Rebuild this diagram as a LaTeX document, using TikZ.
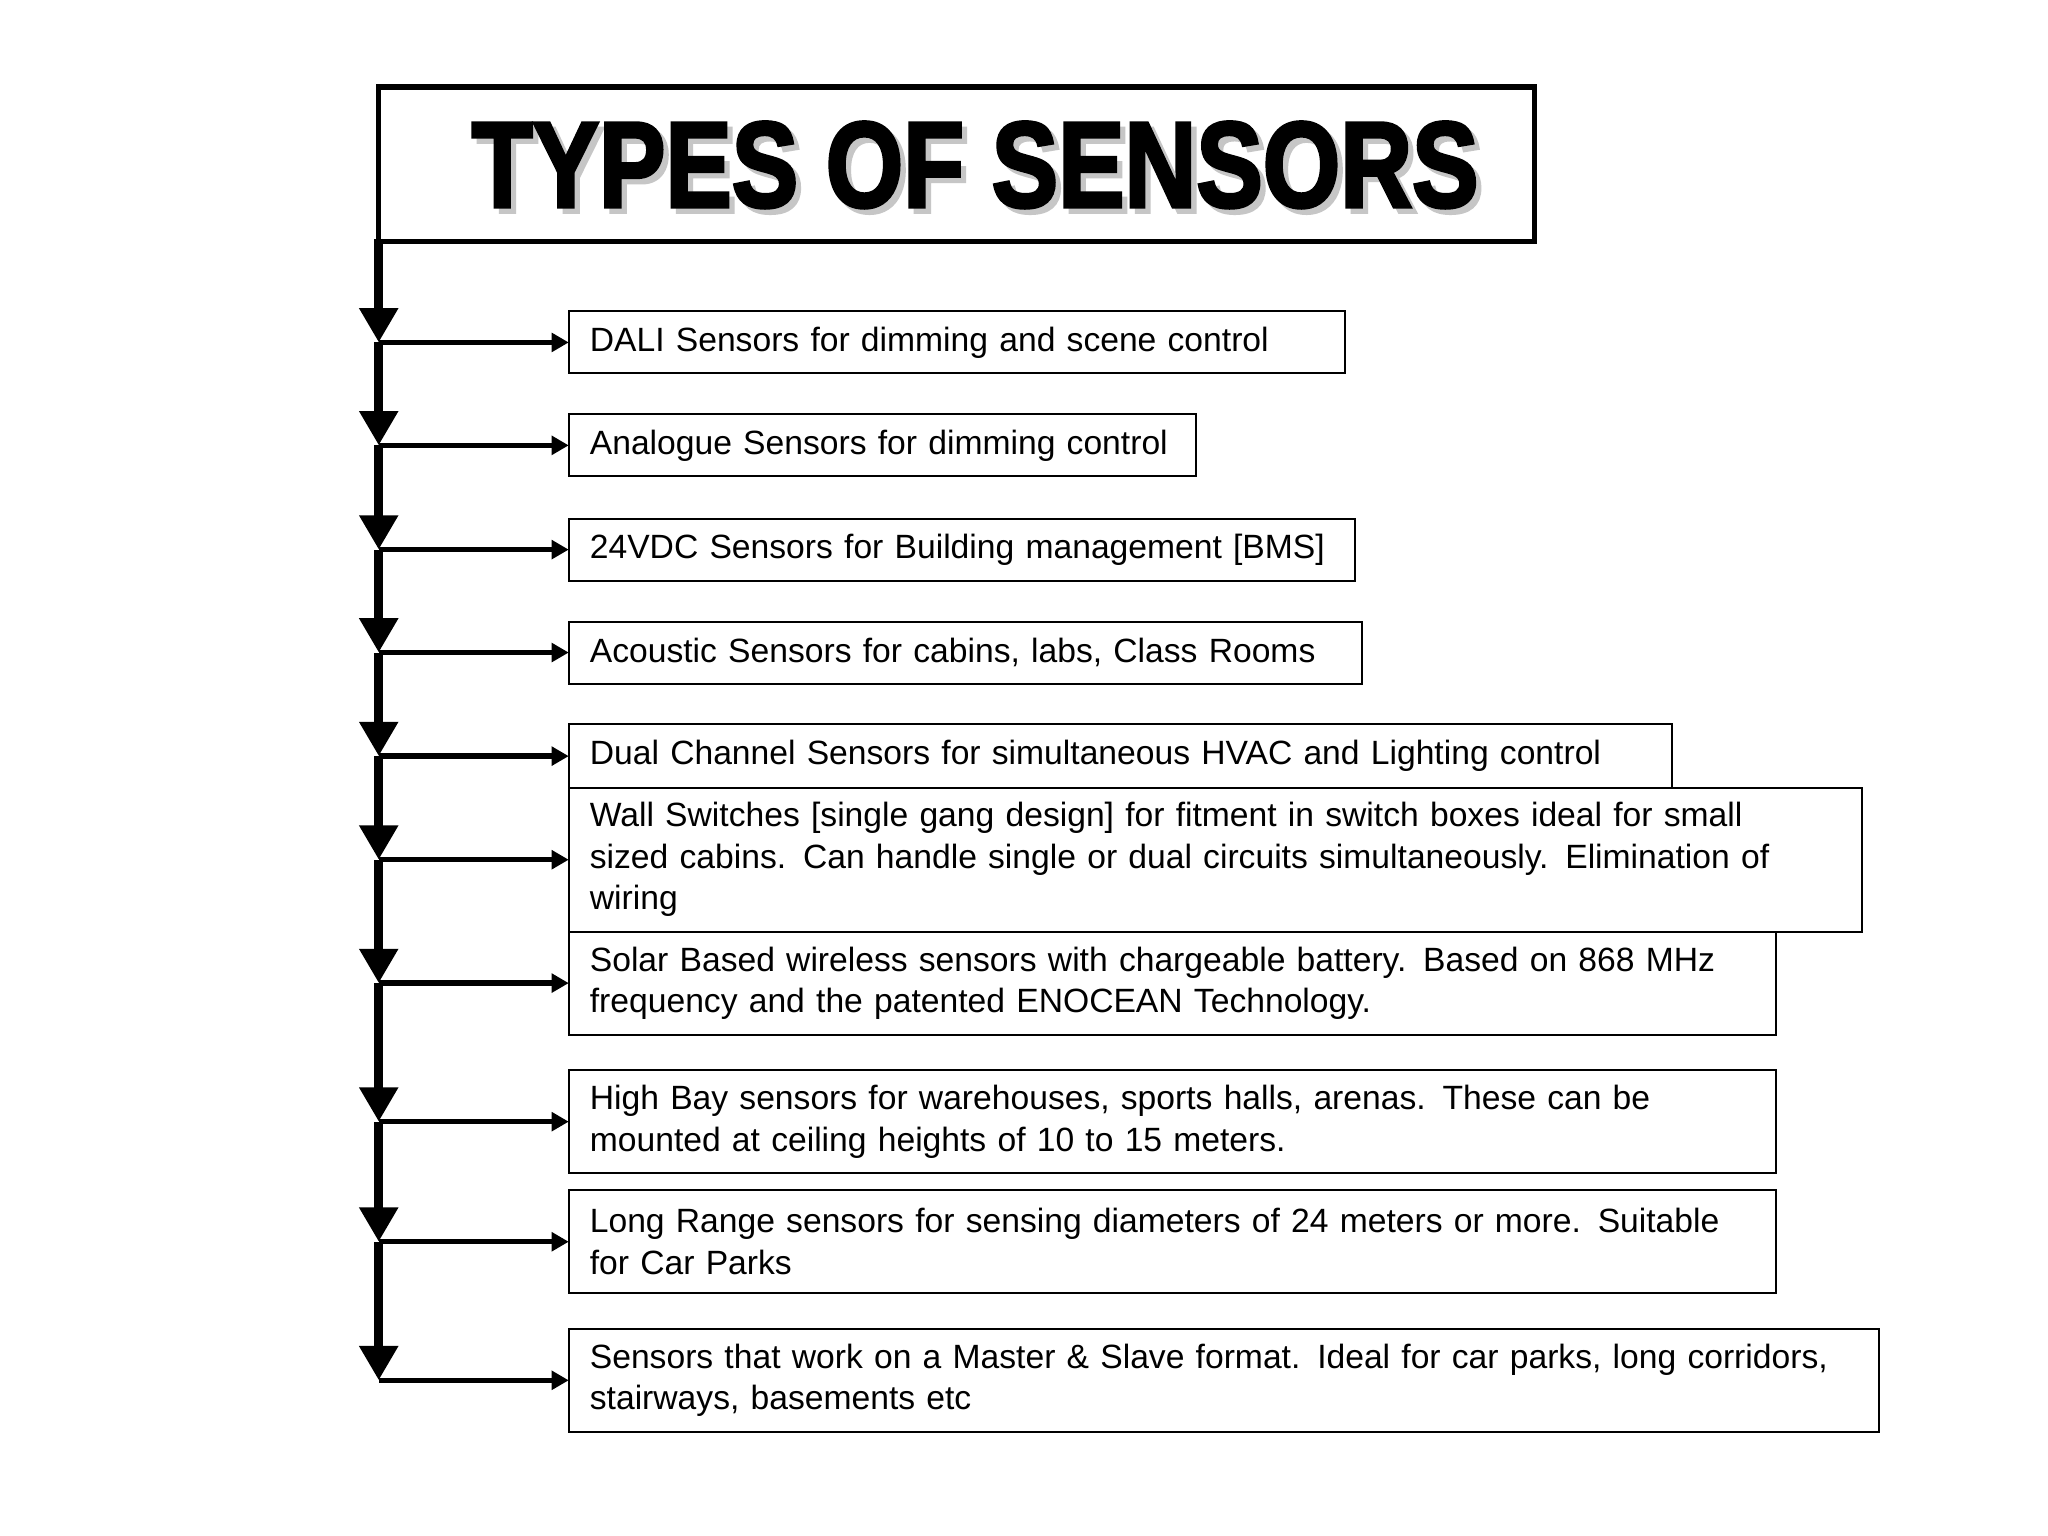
\documentclass[tikz,border=0pt]{standalone}
\usepackage{fontspec}
\setmainfont{Liberation Sans}
\newfontfamily\heavy[BoldFeatures={FakeBold=3}]{Liberation Sans}
\usetikzlibrary{arrows.meta}
\hyphenpenalty=10000
\begin{document}
\begin{tikzpicture}[x=1pt,y=-1pt,outer sep=0pt,
  item/.style={draw,line width=1.5pt,anchor=north west,inner xsep=16pt,align=left,
     font=\fontsize{25.5}{31.5}\selectfont},
  spine/.style={line width=7pt,-{Triangle[width=28pt,length=26pt]}},
  branch/.style={line width=4pt,-{Triangle[width=14pt,length=13pt]}}]
\useasboundingbox (0,0) rectangle (1552,1164);
\fill[white] (0,0) rectangle (1552,1164);
\node[draw,line width=4pt,anchor=north west,minimum width=876pt,minimum height=117pt,inner sep=0pt] (title) at (287,66) {};
\node[text=gray!45] at (743,129) {\scalebox{0.82}[1]{\fontsize{92}{92}\heavy\bfseries TYPES OF SENSORS}};
\node (tt) at (739,125) {\scalebox{0.82}[1]{\fontsize{92}{92}\heavy\bfseries TYPES OF SENSORS}};
\def\bx#1#2#3#4#5{\node[item,minimum width=#3pt-#2pt,minimum height=#5pt-#4pt,text width=#3pt-#2pt-32pt] (#1) at (#2,#4)}
\bx{b1}{431}{1019}{236}{283}{DALI Sensors for dimming and scene control};
\bx{b2}{431}{906}{314}{361}{Analogue Sensors for dimming control};
\bx{b3}{431}{1027}{393}{440}{24VDC Sensors for Building management [BMS]};
\bx{b4}{431}{1032}{471}{518}{Acoustic Sensors for cabins, labs, Class Rooms};
\bx{b5}{431}{1267}{549}{597}{Dual Channel Sensors for simultaneous HVAC and Lighting control};
\bx{b6}{431}{1411}{597}{706}{Wall Switches [single gang design] for fitment in switch boxes ideal for small\\ sized cabins. Can handle single or dual circuits simultaneously. Elimination of\\ wiring};
\bx{b7}{431}{1346}{706}{784}{Solar Based wireless sensors with chargeable battery. Based on 868 MHz\\ frequency and the patented ENOCEAN Technology.};
\bx{b8}{431}{1346}{811}{889}{High Bay sensors for warehouses, sports halls, arenas. These can be\\ mounted at ceiling heights of 10 to 15 meters.};
\bx{b9}{431}{1346}{902}{980}{Long Range sensors for sensing diameters of 24 meters or more. Suitable\\ for Car Parks};
\bx{b10}{431}{1424}{1007}{1085}{Sensors that work on a Master \& Slave format. Ideal for car parks, long corridors,\\ stairways, basements etc};
\coordinate (s0) at (287,181);
\foreach \i in {1,...,10}{\coordinate (s\i) at (b\i.west -| s0);}
\foreach \i [remember=\i as \p (initially 0)] in {1,...,10}{
  \draw[spine] (s\p) -- (s\i);
  \draw[branch] (s\i) -- (b\i.west);
}
\end{tikzpicture}
\end{document}
